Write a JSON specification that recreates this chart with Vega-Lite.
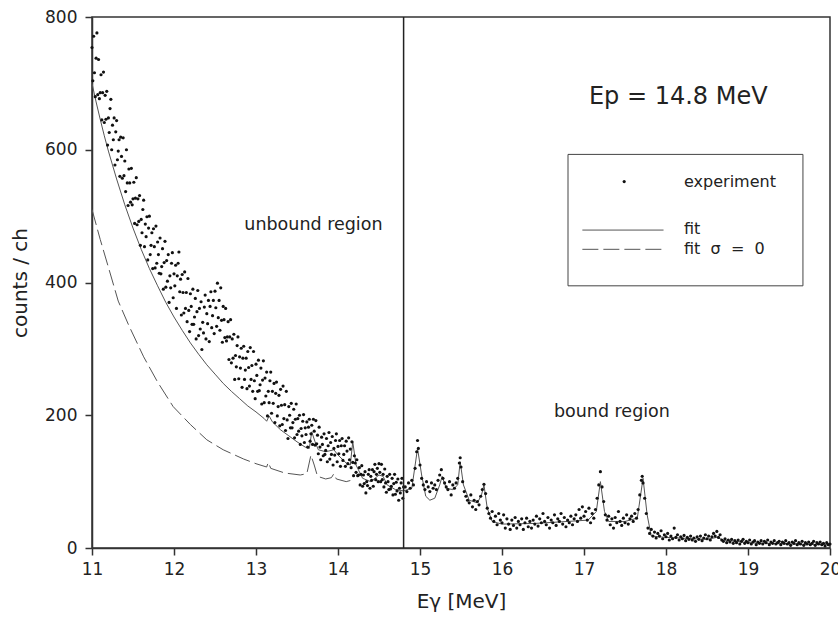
{
 "$schema": "https://vega.github.io/schema/vega-lite/v6.json",
 "width": 738, "height": 531,
 "autosize": {"type": "none"},
 "padding": {"left": 92, "top": 17, "right": 8, "bottom": 72},
 "background": "white",
 "config": {
  "font": "DejaVu Sans",
  "view": {"stroke": "#333", "strokeWidth": 1.5},
  "axis": {"grid": false, "labelFlush": false, "labelOverlap": false, "domainColor": "#333", "domainWidth": 1.5, "tickColor": "#333", "tickWidth": 1.5, "tickSize": 7, "labelFontSize": 17, "labelColor": "#222", "titleFontSize": 20, "titleFontWeight": "normal", "titleColor": "#222"}
 },
 "datasets": {
  "exp": [
{"x":11.00,"y":754},{"x":11.01,"y":704},{"x":11.02,"y":771},{"x":11.03,"y":716},{"x":11.04,"y":680},{"x":11.05,"y":738},{"x":11.06,"y":776},{"x":11.07,"y":683},{"x":11.08,"y":736},{"x":11.09,"y":677},
{"x":11.10,"y":686},{"x":11.11,"y":713},{"x":11.12,"y":645},{"x":11.13,"y":686},{"x":11.14,"y":717},{"x":11.15,"y":641},{"x":11.16,"y":682},{"x":11.17,"y":646},{"x":11.18,"y":688},{"x":11.19,"y":607},
{"x":11.20,"y":648},{"x":11.21,"y":626},{"x":11.22,"y":662},{"x":11.23,"y":676},{"x":11.24,"y":600},{"x":11.25,"y":637},{"x":11.26,"y":615},{"x":11.27,"y":648},{"x":11.28,"y":577},{"x":11.29,"y":627},
{"x":11.30,"y":644},{"x":11.31,"y":585},{"x":11.32,"y":598},{"x":11.33,"y":615},{"x":11.34,"y":560},{"x":11.35,"y":619},{"x":11.36,"y":590},{"x":11.37,"y":557},{"x":11.38,"y":618},{"x":11.39,"y":561},
{"x":11.40,"y":583},{"x":11.41,"y":537},{"x":11.42,"y":600},{"x":11.43,"y":550},{"x":11.44,"y":516},{"x":11.45,"y":571},{"x":11.46,"y":550},{"x":11.47,"y":521},{"x":11.48,"y":572},{"x":11.49,"y":517},
{"x":11.50,"y":526},{"x":11.51,"y":551},{"x":11.52,"y":489},{"x":11.53,"y":527},{"x":11.54,"y":558},{"x":11.55,"y":487},{"x":11.56,"y":526},{"x":11.57,"y":492},{"x":11.58,"y":531},{"x":11.59,"y":456},
{"x":11.60,"y":495},{"x":11.61,"y":475},{"x":11.62,"y":510},{"x":11.63,"y":524},{"x":11.64,"y":454},{"x":11.65,"y":488},{"x":11.66,"y":469},{"x":11.67,"y":499},{"x":11.68,"y":434},{"x":11.69,"y":482},
{"x":11.70,"y":500},{"x":11.71,"y":442},{"x":11.72,"y":456},{"x":11.73,"y":475},{"x":11.74,"y":421},{"x":11.75,"y":481},{"x":11.76,"y":454},{"x":11.77,"y":422},{"x":11.78,"y":485},{"x":11.79,"y":429},
{"x":11.80,"y":461},{"x":11.81,"y":442},{"x":11.82,"y":414},{"x":11.83,"y":467},{"x":11.84,"y":413},{"x":11.85,"y":424},{"x":11.86,"y":451},{"x":11.87,"y":390},{"x":11.88,"y":430},{"x":11.89,"y":462},
{"x":11.90,"y":393},{"x":11.91,"y":433},{"x":11.92,"y":402},{"x":11.93,"y":442},{"x":11.94,"y":370},{"x":11.95,"y":410},{"x":11.96,"y":392},{"x":11.97,"y":429},{"x":11.98,"y":445},{"x":11.99,"y":377},
{"x":12.00,"y":413},{"x":12.01,"y":395},{"x":12.02,"y":426},{"x":12.03,"y":361},{"x":12.04,"y":410},{"x":12.05,"y":429},{"x":12.06,"y":446},{"x":12.07,"y":386},{"x":12.08,"y":405},{"x":12.09,"y":351},
{"x":12.10,"y":412},{"x":12.11,"y":385},{"x":12.12,"y":354},{"x":12.13,"y":416},{"x":12.14,"y":361},{"x":12.15,"y":385},{"x":12.16,"y":341},{"x":12.17,"y":406},{"x":12.18,"y":358},{"x":12.19,"y":326},
{"x":12.20,"y":383},{"x":12.21,"y":364},{"x":12.22,"y":337},{"x":12.23,"y":390},{"x":12.24,"y":337},{"x":12.25,"y":348},{"x":12.26,"y":376},{"x":12.27,"y":315},{"x":12.28,"y":356},{"x":12.29,"y":388},
{"x":12.30,"y":320},{"x":12.31,"y":361},{"x":12.32,"y":330},{"x":12.33,"y":371},{"x":12.34,"y":299},{"x":12.35,"y":340},{"x":12.36,"y":324},{"x":12.37,"y":363},{"x":12.38,"y":381},{"x":12.39,"y":315},
{"x":12.40,"y":353},{"x":12.41,"y":338},{"x":12.42,"y":373},{"x":12.43,"y":311},{"x":12.44,"y":364},{"x":12.45,"y":386},{"x":12.46,"y":332},{"x":12.47,"y":350},{"x":12.48,"y":373},{"x":12.49,"y":323},
{"x":12.50,"y":387},{"x":12.51,"y":362},{"x":12.52,"y":334},{"x":12.53,"y":399},{"x":12.54,"y":347},{"x":12.55,"y":373},{"x":12.56,"y":328},{"x":12.57,"y":392},{"x":12.58,"y":343},{"x":12.59,"y":310},
{"x":12.60,"y":364},{"x":12.61,"y":344},{"x":12.62,"y":317},{"x":12.63,"y":361},{"x":12.64,"y":312},{"x":12.65,"y":318},{"x":12.66,"y":341},{"x":12.67,"y":284},{"x":12.68,"y":318},{"x":12.69,"y":344},
{"x":12.70,"y":279},{"x":12.71,"y":315},{"x":12.72,"y":286},{"x":12.73,"y":322},{"x":12.74,"y":254},{"x":12.75,"y":290},{"x":12.76,"y":273},{"x":12.77,"y":305},{"x":12.78,"y":318},{"x":12.79,"y":255},
{"x":12.80,"y":288},{"x":12.81,"y":271},{"x":12.82,"y":301},{"x":12.83,"y":242},{"x":12.84,"y":286},{"x":12.85,"y":304},{"x":12.86,"y":254},{"x":12.87,"y":268},{"x":12.88,"y":286},{"x":12.89,"y":240},
{"x":12.90,"y":296},{"x":12.91,"y":272},{"x":12.92,"y":244},{"x":12.93,"y":302},{"x":12.94,"y":254},{"x":12.95,"y":275},{"x":12.96,"y":236},{"x":12.97,"y":296},{"x":12.98,"y":252},{"x":12.99,"y":225},
{"x":13.00,"y":277},{"x":13.01,"y":260},{"x":13.02,"y":236},{"x":13.03,"y":283},{"x":13.04,"y":237},{"x":13.05,"y":246},{"x":13.06,"y":271},{"x":13.07,"y":217},{"x":13.08,"y":253},{"x":13.09,"y":282},
{"x":13.10,"y":219},{"x":13.11,"y":256},{"x":13.12,"y":229},{"x":13.13,"y":265},{"x":13.14,"y":199},{"x":13.15,"y":236},{"x":13.16,"y":219},{"x":13.17,"y":252},{"x":13.18,"y":265},{"x":13.19,"y":203},
{"x":13.20,"y":236},{"x":13.21,"y":218},{"x":13.22,"y":248},{"x":13.23,"y":189},{"x":13.24,"y":233},{"x":13.25,"y":250},{"x":13.26,"y":199},{"x":13.27,"y":213},{"x":13.28,"y":230},{"x":13.29,"y":184},
{"x":13.30,"y":239},{"x":13.31,"y":215},{"x":13.32,"y":186},{"x":13.33,"y":244},{"x":13.34,"y":195},{"x":13.35,"y":216},{"x":13.36,"y":177},{"x":13.37,"y":236},{"x":13.38,"y":193},{"x":13.39,"y":165},
{"x":13.40,"y":213},{"x":13.41,"y":200},{"x":13.42,"y":181},{"x":13.43,"y":218},{"x":13.44,"y":181},{"x":13.45,"y":189},{"x":13.46,"y":209},{"x":13.47,"y":166},{"x":13.48,"y":194},{"x":13.49,"y":217},
{"x":13.50,"y":171},{"x":13.51,"y":195},{"x":13.52,"y":176},{"x":13.53,"y":200},{"x":13.54,"y":156},{"x":13.55,"y":180},{"x":13.56,"y":169},{"x":13.57,"y":191},{"x":13.58,"y":201},{"x":13.59,"y":159},
{"x":13.60,"y":181},{"x":13.61,"y":171},{"x":13.62,"y":190},{"x":13.63,"y":152},{"x":13.64,"y":182},{"x":13.65,"y":194},{"x":13.66,"y":161},{"x":13.67,"y":172},{"x":13.68,"y":185},{"x":13.69,"y":156},
{"x":13.70,"y":194},{"x":13.71,"y":176},{"x":13.72,"y":155},{"x":13.73,"y":192},{"x":13.74,"y":157},{"x":13.75,"y":170},{"x":13.76,"y":142},{"x":13.77,"y":182},{"x":13.78,"y":152},{"x":13.79,"y":133},
{"x":13.80,"y":167},{"x":13.81,"y":156},{"x":13.82,"y":139},{"x":13.83,"y":172},{"x":13.84,"y":141},{"x":13.85,"y":147},{"x":13.86,"y":165},{"x":13.87,"y":130},{"x":13.88,"y":154},{"x":13.89,"y":174},
{"x":13.90,"y":134},{"x":13.91,"y":159},{"x":13.92,"y":141},{"x":13.93,"y":168},{"x":13.94,"y":125},{"x":13.95,"y":150},{"x":13.96,"y":140},{"x":13.97,"y":162},{"x":13.98,"y":172},{"x":13.99,"y":130},
{"x":14.00,"y":153},{"x":14.01,"y":142},{"x":14.02,"y":162},{"x":14.03,"y":123},{"x":14.04,"y":154},{"x":14.05,"y":165},{"x":14.06,"y":132},{"x":14.07,"y":141},{"x":14.08,"y":154},{"x":14.09,"y":123},
{"x":14.10,"y":161},{"x":14.11,"y":146},{"x":14.12,"y":127},{"x":14.13,"y":166},{"x":14.14,"y":133},{"x":14.15,"y":149},{"x":14.16,"y":121},{"x":14.17,"y":160},{"x":14.18,"y":129},{"x":14.19,"y":109},
{"x":14.20,"y":139},{"x":14.21,"y":128},{"x":14.22,"y":114},{"x":14.23,"y":133},{"x":14.24,"y":109},{"x":14.25,"y":110},{"x":14.26,"y":121},{"x":14.27,"y":95},{"x":14.28,"y":111},{"x":14.29,"y":124},
{"x":14.30,"y":93},{"x":14.31,"y":110},{"x":14.32,"y":97},{"x":14.33,"y":115},{"x":14.34,"y":83},{"x":14.35,"y":100},{"x":14.36,"y":94},{"x":14.37,"y":111},{"x":14.38,"y":118},{"x":14.39,"y":90},
{"x":14.40,"y":108},{"x":14.41,"y":102},{"x":14.42,"y":118},{"x":14.43,"y":93},{"x":14.44,"y":115},{"x":14.45,"y":126},{"x":14.46,"y":103},{"x":14.47,"y":111},{"x":14.48,"y":120},{"x":14.49,"y":100},
{"x":14.50,"y":127},{"x":14.51,"y":114},{"x":14.52,"y":100},{"x":14.53,"y":126},{"x":14.54,"y":103},{"x":14.55,"y":111},{"x":14.56,"y":92},{"x":14.57,"y":119},{"x":14.58,"y":98},{"x":14.59,"y":84},
{"x":14.60,"y":108},{"x":14.61,"y":100},{"x":14.62,"y":88},{"x":14.63,"y":111},{"x":14.64,"y":89},{"x":14.65,"y":93},{"x":14.66,"y":105},{"x":14.67,"y":80},{"x":14.68,"y":97},{"x":14.69,"y":111},
{"x":14.70,"y":81},{"x":14.71,"y":99},{"x":14.72,"y":86},{"x":14.73,"y":104},{"x":14.74,"y":72},{"x":14.75,"y":90},{"x":14.76,"y":83},{"x":14.77,"y":98},{"x":14.78,"y":105},{"x":14.79,"y":75},{"x":14.80,"y":92},
{"x":14.82,"y":92},{"x":14.84,"y":85},{"x":14.86,"y":98},{"x":14.88,"y":90},{"x":14.90,"y":102},{"x":14.92,"y":95},{"x":14.94,"y":120},{"x":14.96,"y":145},{"x":14.97,"y":162},{"x":14.98,"y":150},
{"x":15.00,"y":125},{"x":15.02,"y":105},{"x":15.04,"y":95},{"x":15.06,"y":88},{"x":15.08,"y":100},{"x":15.10,"y":92},{"x":15.12,"y":85},{"x":15.14,"y":98},{"x":15.16,"y":90},{"x":15.18,"y":95},
{"x":15.20,"y":88},{"x":15.22,"y":102},{"x":15.24,"y":110},{"x":15.26,"y":118},{"x":15.28,"y":105},{"x":15.30,"y":98},{"x":15.32,"y":92},{"x":15.34,"y":88},{"x":15.36,"y":100},{"x":15.38,"y":80},
{"x":15.40,"y":95},{"x":15.42,"y":90},{"x":15.44,"y":98},{"x":15.46,"y":105},{"x":15.48,"y":128},{"x":15.49,"y":136},{"x":15.50,"y":122},{"x":15.52,"y":100},{"x":15.54,"y":85},{"x":15.56,"y":78},
{"x":15.58,"y":72},{"x":15.60,"y":68},{"x":15.62,"y":80},{"x":15.64,"y":62},{"x":15.66,"y":72},{"x":15.68,"y":58},{"x":15.70,"y":70},{"x":15.72,"y":65},{"x":15.74,"y":78},{"x":15.76,"y":88},
{"x":15.78,"y":96},{"x":15.80,"y":82},{"x":15.82,"y":60},{"x":15.84,"y":52},{"x":15.86,"y":45},{"x":15.88,"y":55},{"x":15.90,"y":40},{"x":15.92,"y":48},{"x":15.94,"y":35},{"x":15.96,"y":52},
{"x":15.98,"y":42},{"x":16.00,"y":38},{"x":16.02,"y":50},{"x":16.04,"y":30},{"x":16.06,"y":44},{"x":16.08,"y":36},{"x":16.10,"y":28},{"x":16.12,"y":42},{"x":16.14,"y":34},{"x":16.16,"y":46},
{"x":16.18,"y":30},{"x":16.20,"y":40},{"x":16.22,"y":35},{"x":16.24,"y":44},{"x":16.26,"y":28},{"x":16.28,"y":38},{"x":16.30,"y":45},{"x":16.32,"y":32},{"x":16.34,"y":40},{"x":16.36,"y":30},
{"x":16.38,"y":42},{"x":16.40,"y":36},{"x":16.42,"y":48},{"x":16.44,"y":33},{"x":16.46,"y":44},{"x":16.48,"y":38},{"x":16.50,"y":52},{"x":16.52,"y":40},{"x":16.54,"y":35},{"x":16.56,"y":46},
{"x":16.58,"y":30},{"x":16.60,"y":42},{"x":16.62,"y":38},{"x":16.64,"y":50},{"x":16.66,"y":34},{"x":16.68,"y":44},{"x":16.70,"y":40},{"x":16.72,"y":52},{"x":16.74,"y":36},{"x":16.76,"y":46},
{"x":16.78,"y":32},{"x":16.80,"y":42},{"x":16.82,"y":38},{"x":16.84,"y":48},{"x":16.86,"y":35},{"x":16.88,"y":44},{"x":16.90,"y":50},{"x":16.92,"y":40},{"x":16.94,"y":58},{"x":16.96,"y":45},
{"x":16.98,"y":62},{"x":17.00,"y":48},{"x":17.02,"y":55},{"x":17.04,"y":42},{"x":17.06,"y":60},{"x":17.08,"y":38},{"x":17.10,"y":52},{"x":17.12,"y":45},{"x":17.14,"y":58},{"x":17.16,"y":75},
{"x":17.18,"y":95},{"x":17.20,"y":115},{"x":17.22,"y":92},{"x":17.24,"y":70},{"x":17.26,"y":50},{"x":17.28,"y":42},{"x":17.30,"y":48},{"x":17.32,"y":35},{"x":17.34,"y":44},{"x":17.36,"y":30},
{"x":17.38,"y":46},{"x":17.40,"y":38},{"x":17.42,"y":55},{"x":17.44,"y":40},{"x":17.46,"y":34},{"x":17.48,"y":45},{"x":17.50,"y":38},{"x":17.52,"y":50},{"x":17.54,"y":36},{"x":17.56,"y":44},
{"x":17.58,"y":48},{"x":17.60,"y":40},{"x":17.62,"y":52},{"x":17.64,"y":45},{"x":17.66,"y":58},{"x":17.68,"y":80},{"x":17.70,"y":102},{"x":17.71,"y":108},{"x":17.72,"y":98},{"x":17.74,"y":75},
{"x":17.76,"y":52},{"x":17.78,"y":30},{"x":17.80,"y":22},{"x":17.82,"y":28},{"x":17.84,"y":18},{"x":17.86,"y":24},{"x":17.88,"y":15},{"x":17.90,"y":22},{"x":17.92,"y":18},{"x":17.94,"y":26},
{"x":17.96,"y":14},{"x":17.98,"y":20},{"x":18.00,"y":17},{"x":18.02,"y":22},{"x":18.04,"y":12},{"x":18.06,"y":18},{"x":18.08,"y":14},{"x":18.10,"y":30},{"x":18.12,"y":16},{"x":18.14,"y":20},
{"x":18.16,"y":12},{"x":18.18,"y":17},{"x":18.20,"y":14},{"x":18.22,"y":19},{"x":18.24,"y":11},{"x":18.26,"y":16},{"x":18.28,"y":13},{"x":18.30,"y":18},{"x":18.32,"y":12},{"x":18.34,"y":15},
{"x":18.36,"y":10},{"x":18.38,"y":17},{"x":18.40,"y":13},{"x":18.42,"y":18},{"x":18.44,"y":11},{"x":18.46,"y":15},{"x":18.48,"y":20},{"x":18.50,"y":14},{"x":18.52,"y":18},{"x":18.54,"y":12},
{"x":18.56,"y":17},{"x":18.58,"y":22},{"x":18.60,"y":18},{"x":18.62,"y":25},{"x":18.64,"y":16},{"x":18.66,"y":20},{"x":18.68,"y":12},{"x":18.70,"y":10},{"x":18.72,"y":14},{"x":18.74,"y":8},
{"x":18.76,"y":12},{"x":18.78,"y":9},{"x":18.80,"y":13},{"x":18.82,"y":7},{"x":18.84,"y":11},{"x":18.86,"y":8},{"x":18.88,"y":12},{"x":18.90,"y":6},{"x":18.92,"y":10},{"x":18.94,"y":13},
{"x":18.96,"y":7},{"x":18.98,"y":10},{"x":19.00,"y":8},{"x":19.02,"y":12},{"x":19.04,"y":6},{"x":19.06,"y":9},{"x":19.08,"y":11},{"x":19.10,"y":5},{"x":19.12,"y":9},{"x":19.14,"y":7},
{"x":19.16,"y":11},{"x":19.18,"y":6},{"x":19.20,"y":10},{"x":19.22,"y":8},{"x":19.24,"y":12},{"x":19.26,"y":5},{"x":19.28,"y":9},{"x":19.30,"y":7},{"x":19.32,"y":11},{"x":19.34,"y":6},
{"x":19.36,"y":8},{"x":19.38,"y":10},{"x":19.40,"y":5},{"x":19.42,"y":9},{"x":19.44,"y":7},{"x":19.46,"y":11},{"x":19.48,"y":6},{"x":19.50,"y":8},{"x":19.52,"y":4},{"x":19.54,"y":9},
{"x":19.56,"y":7},{"x":19.58,"y":11},{"x":19.60,"y":5},{"x":19.62,"y":8},{"x":19.64,"y":6},{"x":19.66,"y":10},{"x":19.68,"y":4},{"x":19.70,"y":8},{"x":19.72,"y":6},{"x":19.74,"y":9},
{"x":19.76,"y":5},{"x":19.78,"y":7},{"x":19.80,"y":10},{"x":19.82,"y":4},{"x":19.84,"y":8},{"x":19.86,"y":6},{"x":19.88,"y":9},{"x":19.90,"y":5},{"x":19.92,"y":7},{"x":19.94,"y":3},
{"x":19.96,"y":8},{"x":19.98,"y":5},{"x":20.00,"y":6}
  ],
  "fit": [
{"x":11.00,"y":700},{"x":11.05,"y":672},{"x":11.10,"y":646},{"x":11.15,"y":621},{"x":11.20,"y":598},{"x":11.30,"y":556},{"x":11.40,"y":517},{"x":11.50,"y":482},{"x":11.60,"y":450},{"x":11.70,"y":421},
{"x":11.80,"y":395},{"x":11.90,"y":370},{"x":12.00,"y":348},{"x":12.10,"y":328},{"x":12.20,"y":309},{"x":12.30,"y":292},{"x":12.40,"y":276},{"x":12.50,"y":262},{"x":12.60,"y":248},{"x":12.70,"y":236},
{"x":12.80,"y":225},{"x":12.90,"y":214},{"x":13.00,"y":205},{"x":13.10,"y":195},{"x":13.13,"y":191},{"x":13.16,"y":199},{"x":13.20,"y":190},{"x":13.30,"y":178},{"x":13.40,"y":169},{"x":13.50,"y":160},
{"x":13.60,"y":152},{"x":13.65,"y":150},{"x":13.68,"y":175},{"x":13.72,"y":160},{"x":13.76,"y":148},{"x":13.85,"y":145},{"x":13.95,"y":148},{"x":14.00,"y":140},{"x":14.10,"y":128},{"x":14.15,"y":125},
{"x":14.18,"y":160},{"x":14.22,"y":125},{"x":14.30,"y":105},{"x":14.40,"y":100},{"x":14.50,"y":110},{"x":14.55,"y":108},{"x":14.60,"y":95},{"x":14.70,"y":88},{"x":14.80,"y":86},{"x":14.90,"y":90},
{"x":14.97,"y":150},{"x":15.02,"y":110},{"x":15.07,"y":78},{"x":15.12,"y":72},{"x":15.18,"y":75},{"x":15.24,"y":95},{"x":15.27,"y":108},{"x":15.32,"y":90},{"x":15.40,"y":88},{"x":15.46,"y":95},
{"x":15.49,"y":130},{"x":15.53,"y":95},{"x":15.60,"y":72},{"x":15.70,"y":68},{"x":15.75,"y":80},{"x":15.78,"y":95},{"x":15.82,"y":60},{"x":15.88,"y":40},{"x":16.00,"y":36},{"x":16.40,"y":37},
{"x":16.80,"y":40},{"x":17.05,"y":42},{"x":17.15,"y":55},{"x":17.20,"y":100},{"x":17.25,"y":55},{"x":17.30,"y":40},{"x":17.50,"y":40},{"x":17.65,"y":45},{"x":17.72,"y":105},{"x":17.77,"y":50},
{"x":17.82,"y":18},{"x":18.00,"y":16},{"x":18.50,"y":13},{"x":18.62,"y":16},{"x":18.70,"y":12},{"x":19.00,"y":8},{"x":19.50,"y":6},{"x":20.00,"y":5}
  ],
  "fit0": [
{"x":11.00,"y":510},{"x":11.10,"y":465},{"x":11.20,"y":423},{"x":11.32,"y":372},{"x":11.45,"y":335},{"x":11.63,"y":288},{"x":11.80,"y":250},{"x":11.99,"y":213},{"x":12.20,"y":186},{"x":12.40,"y":163},
{"x":12.60,"y":148},{"x":12.85,"y":134},{"x":13.00,"y":127},{"x":13.13,"y":122},{"x":13.15,"y":129},{"x":13.18,"y":120},{"x":13.35,"y":113},{"x":13.54,"y":110},{"x":13.62,"y":112},{"x":13.67,"y":140},
{"x":13.71,"y":125},{"x":13.75,"y":108},{"x":13.85,"y":104},{"x":13.92,"y":106},{"x":13.95,"y":112},{"x":13.98,"y":104},{"x":14.10,"y":100},{"x":14.16,"y":102}
  ]
 },
 "layer": [
  {"data": {"name": "fit0"}, "mark": {"type": "line", "color": "#555", "strokeWidth": 1, "strokeDash": [16, 5]},
   "encoding": {
    "x": {"field": "x", "type": "quantitative", "scale": {"domain": [11, 20], "nice": false, "zero": false, "padding": 0}, "axis": {"values": [11,12,13,14,15,16,17,18,19,20], "format": "d", "title": "Eγ [MeV]", "labelPadding": 6, "titlePadding": 14}},
    "y": {"field": "y", "type": "quantitative", "scale": {"domain": [0, 800], "nice": false, "padding": 0}, "axis": {"values": [0,200,400,600,800], "format": "d", "title": "counts / ch", "labelPadding": 8, "titlePadding": 14}}
   }},
  {"data": {"name": "fit"}, "mark": {"type": "line", "color": "#555", "strokeWidth": 1},
   "encoding": {"x": {"field": "x", "type": "quantitative"}, "y": {"field": "y", "type": "quantitative"}}},
  {"data": {"name": "exp"}, "mark": {"type": "point", "filled": true, "size": 10, "color": "#111", "opacity": 1},
   "encoding": {"x": {"field": "x", "type": "quantitative"}, "y": {"field": "y", "type": "quantitative"}}},
  {"data": {"values": [{}]}, "mark": {"type": "rule", "color": "#222", "strokeWidth": 1.5},
   "encoding": {"x": {"datum": 14.8}}},
  {"data": {"values": [{}]}, "mark": {"type": "text", "text": "unbound region", "fontSize": 17.5, "color": "#222", "align": "center", "baseline": "middle"},
   "encoding": {"x": {"datum": 13.70}, "y": {"datum": 486}}},
  {"data": {"values": [{}]}, "mark": {"type": "text", "text": "bound region", "fontSize": 17.5, "color": "#222", "align": "center", "baseline": "middle"},
   "encoding": {"x": {"datum": 17.34}, "y": {"datum": 205}}},
  {"data": {"values": [{}]}, "mark": {"type": "text", "text": "Ep = 14.8 MeV", "fontSize": 24, "color": "#222", "align": "center", "baseline": "middle"},
   "encoding": {"x": {"datum": 18.15}, "y": {"datum": 679}}},
  {"data": {"values": [{}]}, "mark": {"type": "rect", "fill": "white", "stroke": "#444", "strokeWidth": 1},
   "encoding": {"x": {"datum": 16.805}, "x2": {"datum": 19.67}, "y": {"datum": 593}, "y2": {"datum": 395}}},
  {"data": {"values": [{}]}, "mark": {"type": "point", "filled": true, "size": 10, "color": "#111", "opacity": 1},
   "encoding": {"x": {"datum": 17.49}, "y": {"datum": 552}}},
  {"data": {"values": [{}]}, "mark": {"type": "rule", "color": "#555", "strokeWidth": 1},
   "encoding": {"x": {"datum": 16.98}, "x2": {"datum": 17.97}, "y": {"datum": 479}}},
  {"data": {"values": [{}]}, "mark": {"type": "rule", "color": "#555", "strokeWidth": 1, "strokeDash": [16, 5]},
   "encoding": {"x": {"datum": 16.98}, "x2": {"datum": 17.97}, "y": {"datum": 450}}},
  {"data": {"values": [{}]}, "mark": {"type": "text", "text": "experiment", "fontSize": 16, "color": "#222", "align": "left", "baseline": "middle"},
   "encoding": {"x": {"datum": 18.22}, "y": {"datum": 551}}},
  {"data": {"values": [{}]}, "mark": {"type": "text", "text": "fit", "fontSize": 16, "color": "#222", "align": "left", "baseline": "middle"},
   "encoding": {"x": {"datum": 18.22}, "y": {"datum": 480}}},
  {"data": {"values": [{}]}, "mark": {"type": "text", "text": "fit \u00a0σ \u00a0= \u00a00", "fontSize": 16, "color": "#222", "align": "left", "baseline": "middle"},
   "encoding": {"x": {"datum": 18.22}, "y": {"datum": 450}}}
 ]
}
